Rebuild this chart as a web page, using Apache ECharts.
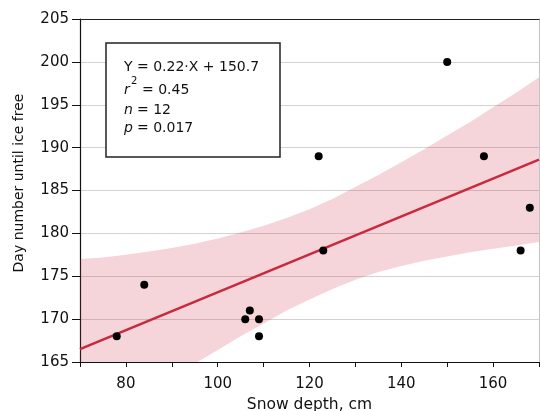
<!DOCTYPE html>
<html>
<head>
<meta charset="utf-8">
<script src="https://cdn.jsdelivr.net/npm/echarts@6/dist/echarts.min.js"></script>
<style>
  html, body { margin: 0; padding: 0; background: #fff; }
  #chart { width: 540px; height: 411px; }
</style>
</head>
<body>
<div id="chart"></div>
<script>
// ---- data ----
const snowDepth = [78, 84, 106, 107, 109, 109, 122, 123, 150, 158, 166, 168];
const iceFreeDay = [168, 174, 170, 171, 170, 168, 189, 178, 200, 189, 178, 183];

const fitX = [70, 170];
const fitY = [166.5, 188.6];

const bandX = [70, 75, 80, 85, 90, 95, 100, 105, 110, 115, 120, 125, 130, 135, 140, 145, 150, 155, 160, 165, 170];
const bandUpper = [177.0, 177.2, 177.5, 177.9, 178.3, 178.8, 179.4, 180.1, 180.9, 181.8, 182.8, 184.0, 185.4, 186.8, 188.3, 189.8, 191.4, 193.0, 194.7, 196.4, 198.2];
const bandLower = [156.0, 157.8, 159.5, 161.3, 163.0, 164.8, 166.4, 168.0, 169.5, 171.0, 172.3, 173.5, 174.6, 175.5, 176.2, 176.8, 177.3, 177.8, 178.2, 178.6, 179.0];

const xTicks = { min: 70, max: 170, step: 10, labelStep: 20 };
const yTicks = { min: 165, max: 205, step: 5 };

const statLines = ['Y = 0.22·X + 150.7', '0.45', '12', '0.017'];
const xTitle = 'Snow depth, cm';
const yTitle = 'Day number until ice free';

// ---- chart ----
const FONT = 'DejaVu Sans';
const chart = echarts.init(document.getElementById('chart'), null, { renderer: 'canvas' });

const pts = snowDepth.map((x, i) => [x, iceFreeDay[i]]);
const fitData = fitX.map((x, i) => [x, fitY[i]]);

const boxText = { fontFamily: FONT, fontSize: 14, fill: '#111' };

function renderBand(params, api) {
  const upper = bandX.map((x, i) => api.coord([x, bandUpper[i]]));
  const lower = bandX.map((x, i) => api.coord([x, bandLower[i]])).reverse();
  const cs = params.coordSys;
  return {
    type: 'polygon',
    shape: { points: upper.concat(lower) },
    style: { fill: 'rgba(205,40,70,0.2)' },
    clipPath: { type: 'rect', shape: { x: cs.x, y: cs.y, width: cs.width, height: cs.height } },
    silent: true
  };
}

chart.setOption({
  animation: false,
  backgroundColor: '#fff',
  grid: { left: 80, right: 1, top: 19, bottom: 49, containLabel: false, outerBoundsMode: 'none' },
  xAxis: [{
    type: 'value', min: xTicks.min, max: xTicks.max, interval: xTicks.step,
    position: 'bottom',
    name: xTitle, nameLocation: 'middle', nameGap: 32,
    nameTextStyle: { fontFamily: FONT, fontSize: 15.5, color: '#111' },
    axisLine: { show: true, onZero: false, lineStyle: { color: '#111', width: 1.2 } },
    axisTick: { show: true, length: 5, lineStyle: { color: '#111', width: 1 } },
    axisLabel: {
      margin: 15, fontFamily: FONT, fontSize: 15, color: '#111',
      formatter: v => (v % xTicks.labelStep === 0 ? String(v) : '')
    },
    splitLine: { show: false }
  }, {
    type: 'value', min: xTicks.min, max: xTicks.max, position: 'top',
    axisLine: { show: true, onZero: false, lineStyle: { color: '#222', width: 1.2 } },
    axisTick: { show: false }, axisLabel: { show: false }, splitLine: { show: false }
  }],
  yAxis: [{
    type: 'value', min: yTicks.min, max: yTicks.max, interval: yTicks.step,
    position: 'left',
    axisLine: { show: true, onZero: false, lineStyle: { color: '#111', width: 1.2 } },
    axisTick: { show: true, length: 8, lineStyle: { color: '#111', width: 1 } },
    axisLabel: { margin: 11, fontFamily: FONT, fontSize: 15, color: '#111' },
    splitLine: { show: true, lineStyle: { color: '#d2d2d2', width: 1 } }
  }, {
    type: 'value', min: yTicks.min, max: yTicks.max, position: 'right',
    axisLine: { show: true, onZero: false, lineStyle: { color: '#c4c4c4', width: 1 } },
    axisTick: { show: false }, axisLabel: { show: false }, splitLine: { show: false }
  }],
  series: [
    {
      type: 'custom', name: 'band', renderItem: renderBand,
      data: [[bandX[0], bandUpper[0]]], silent: true, z: 1
    },
    {
      type: 'line', name: 'fit', data: fitData, symbol: 'none',
      lineStyle: { color: '#c8293f', width: 2.5 }, z: 3
    },
    {
      type: 'scatter', name: 'obs', data: pts, symbol: 'circle', symbolSize: 8,
      itemStyle: { color: '#000', opacity: 1 }, z: 4
    }
  ],
  graphic: [
    {
      type: 'text', x: 19, y: 183, rotation: Math.PI / 2,
      style: { text: yTitle, fontFamily: FONT, fontSize: 14, fill: '#111', align: 'center', verticalAlign: 'middle' },
      z: 10
    },
    {
      type: 'rect', shape: { x: 106, y: 43, width: 174, height: 114 },
      style: { fill: '#fff', stroke: '#222', lineWidth: 1.5 }, z: 10
    },
    { type: 'text', x: 124, y: 67, style: Object.assign({}, boxText, { text: statLines[0], verticalAlign: 'middle' }), z: 11 },
    { type: 'text', x: 124, y: 90, style: Object.assign({}, boxText, { text: 'r', fontStyle: 'italic', verticalAlign: 'middle' }), z: 11 },
    { type: 'text', x: 131, y: 81, style: Object.assign({}, boxText, { text: '2', fontSize: 10, verticalAlign: 'middle' }), z: 11 },
    { type: 'text', x: 137.5, y: 90, style: Object.assign({}, boxText, { text: ' = ' + statLines[1], verticalAlign: 'middle' }), z: 11 },
    { type: 'text', x: 124, y: 110, style: Object.assign({}, boxText, { text: 'n', fontStyle: 'italic', verticalAlign: 'middle' }), z: 11 },
    { type: 'text', x: 132.5, y: 110, style: Object.assign({}, boxText, { text: ' = ' + statLines[2], verticalAlign: 'middle' }), z: 11 },
    { type: 'text', x: 124, y: 128, style: Object.assign({}, boxText, { text: 'p', fontStyle: 'italic', verticalAlign: 'middle' }), z: 11 },
    { type: 'text', x: 132.5, y: 128, style: Object.assign({}, boxText, { text: ' = ' + statLines[3], verticalAlign: 'middle' }), z: 11 }
  ]
});
</script>
</body>
</html>
